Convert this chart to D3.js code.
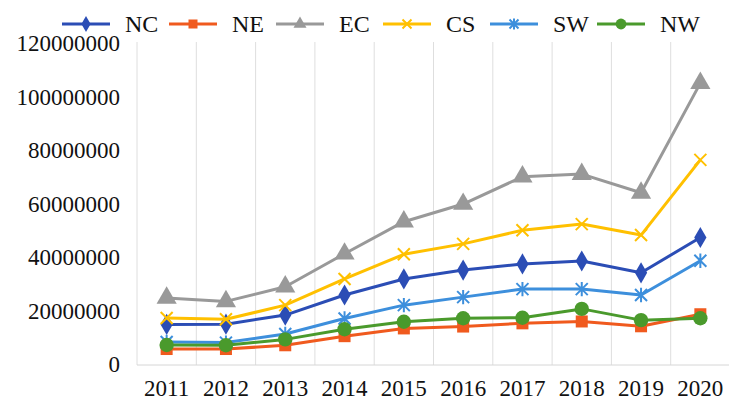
<!DOCTYPE html>
<html>
<head>
<meta charset="utf-8">
<script src="https://cdn.jsdelivr.net/npm/d3@7"></script>
<style>
  body { margin: 0; background: #fff; }
</style>
</head>
<body>
<svg id="chart" width="729" height="404" font-family="'Liberation Serif', 'DejaVu Serif', serif"></svg>
<script>
// data
const years = ["2011", "2012", "2013", "2014", "2015", "2016", "2017", "2018", "2019", "2020"];
const yTicks = [0, 20000000, 40000000, 60000000, 80000000, 100000000, 120000000];

const NC = [14.8, 14.9, 18.3, 25.8, 31.8, 35.1, 37.4, 38.5, 34.1, 47.3].map(v => v * 1e6);
const NE = [5.6, 5.6, 7.0, 10.4, 13.3, 14.0, 15.2, 15.9, 14.1, 18.6].map(v => v * 1e6);
const EC = [24.7, 23.4, 28.9, 41.2, 53.2, 59.8, 70.0, 71.0, 64.0, 105.0].map(v => v * 1e6);
const CS = [17.2, 16.7, 22.0, 31.8, 41.0, 44.9, 50.0, 52.3, 48.2, 76.3].map(v => v * 1e6);
const SW = [8.2, 8.0, 11.2, 17.0, 22.0, 25.0, 28.0, 28.0, 25.8, 38.6].map(v => v * 1e6);
const NW = [7.1, 7.0, 9.2, 13.0, 15.8, 17.1, 17.3, 20.6, 16.4, 17.1].map(v => v * 1e6);

const seriesNames = ["NC", "NE", "EC", "CS", "SW", "NW"];
const seriesValues = [NC, NE, EC, CS, SW, NW];
const seriesColors = ["#2b4db5", "#f05a1e", "#999999", "#ffc000", "#3d8fdc", "#4a9a2c"];
const seriesMarkers = ["diamond", "square", "triangle", "x", "star", "circle"];

const svg = d3.select("#chart");

const x = d3.scaleBand().domain(years).range([137, 730]);
const y = d3.scaleLinear().domain([0, 120000000]).range([364, 43]);

// vertical grid lines at the category borders
const borders = years.map(d => x(d)).concat([x.range()[1]]);
svg.append("g")
  .selectAll("line")
  .data(borders)
  .enter()
  .append("line")
  .attr("x1", d => d)
  .attr("x2", d => d)
  .attr("y1", 42)
  .attr("y2", 365)
  .attr("stroke", "#dedede")
  .attr("stroke-width", 1);

svg.append("line")
  .attr("x1", 137).attr("x2", 730)
  .attr("y1", 365).attr("y2", 365)
  .attr("stroke", "#d6d6d6");

// y axis labels
svg.append("g")
  .selectAll("text")
  .data(yTicks)
  .enter()
  .append("text")
  .attr("x", 120)
  .attr("y", d => y(d) + 8)
  .attr("text-anchor", "end")
  .attr("font-size", 23)
  .attr("fill", "#111")
  .text(d => d3.format("d")(d));

// x axis labels
svg.append("g")
  .selectAll("text")
  .data(years)
  .enter()
  .append("text")
  .attr("x", d => x(d) + x.bandwidth() / 2)
  .attr("y", 396)
  .attr("text-anchor", "middle")
  .attr("font-size", 23)
  .attr("fill", "#111")
  .text(d => d);

function drawMarker(g, type, color, size) {
  if (type === "circle") {
    g.append("circle").attr("r", size * 0.6).attr("fill", color);
  } else if (type === "square") {
    g.append("rect").attr("x", -size / 2).attr("y", -size / 2)
      .attr("width", size).attr("height", size).attr("fill", color);
  } else if (type === "diamond") {
    g.append("path").attr("d", d3.symbol(d3.symbolDiamond, size * size * 0.9)()).attr("fill", color);
  } else if (type === "triangle") {
    g.append("path").attr("d", d3.symbol(d3.symbolTriangle, size * size * 0.9)()).attr("fill", color);
  } else if (type === "x") {
    const s = size / 2;
    g.append("path").attr("d", `M${-s},${-s}L${s},${s}M${-s},${s}L${s},${-s}`)
      .attr("stroke", color).attr("stroke-width", 2);
  } else if (type === "star") {
    const s = size / 2;
    g.append("path").attr("d", `M${-s},${-s}L${s},${s}M${-s},${s}L${s},${-s}M0,${-s * 1.2}L0,${s * 1.2}`)
      .attr("stroke", color).attr("stroke-width", 2);
  }
}

const line = d3.line()
  .x((d, i) => x(years[i]) + x.bandwidth() / 2)
  .y(d => y(d));

seriesValues.forEach((vals, k) => {
  const g = svg.append("g").attr("class", "series-" + seriesNames[k]);
  g.append("path")
    .attr("d", line(vals))
    .attr("fill", "none")
    .attr("stroke", seriesColors[k])
    .attr("stroke-width", 3)
    .attr("stroke-linejoin", "round");
  vals.forEach((v, i) => {
    const m = g.append("g")
      .attr("transform", `translate(${x(years[i]) + x.bandwidth() / 2},${y(v)})`);
    drawMarker(m, seriesMarkers[k], seriesColors[k], seriesMarkers[k] === "triangle" ? 14 : 12);
  });
});

// legend
const legend = svg.append("g").attr("class", "legend");
seriesNames.forEach((name, k) => {
  const lx = 62 + k * 107;
  const item = legend.append("g").attr("transform", `translate(${lx},24)`);
  item.append("line")
    .attr("x1", 0).attr("x2", 48)
    .attr("y1", 0).attr("y2", 0)
    .attr("stroke", seriesColors[k])
    .attr("stroke-width", 3);
  const m = item.append("g").attr("transform", "translate(24,0)");
  drawMarker(m, seriesMarkers[k], seriesColors[k], 9);
  item.append("text")
    .attr("x", 63)
    .attr("y", 8)
    .attr("font-size", 24)
    .attr("fill", "#111")
    .text(name);
});
</script>
</body>
</html>
